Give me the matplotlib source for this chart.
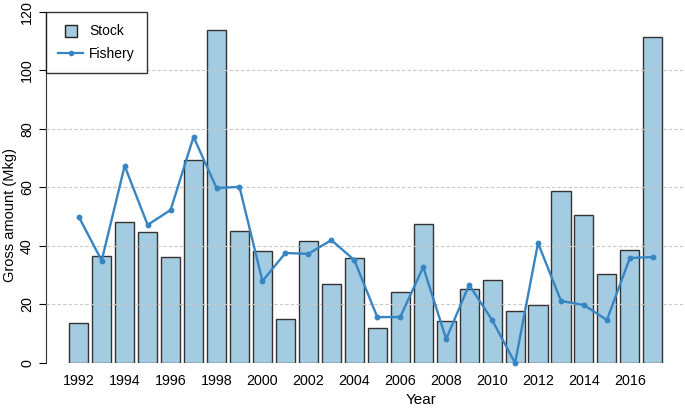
import matplotlib.pyplot as plt
from matplotlib.lines import Line2D

plt.rcParams["font.family"] = ["Liberation Sans", "DejaVu Sans"]

years = list(range(1992, 2018))
stock = [13.7, 36.6, 48.2, 44.8, 36.2, 69.4, 113.8, 45.1, 38.3, 15.0, 41.7, 27.0, 35.9,
         12.0, 24.3, 47.5, 14.4, 25.3, 28.4, 17.8, 19.8, 58.8, 50.6, 30.4, 38.6, 111.5]
fishery = [50.0, 35.0, 67.4, 47.2, 52.3, 77.3, 59.8, 60.2, 28.0, 37.6, 37.3, 42.0, 35.2,
           15.7, 15.7, 32.8, 8.2, 26.7, 14.7, 0.0, 41.0, 21.2, 19.8, 14.7, 35.9, 36.2]
xticks = list(range(1992, 2017, 2))
yticks = [0, 20, 40, 60, 80, 100, 120]

bar_color = "#a3cbe1"
line_color = "#3785c2"

fig = plt.figure(figsize=(6.85, 4.12), dpi=100)
ax = fig.add_axes([0.067, 0.119, 0.933, 0.852])

ax.bar(years, stock, width=0.83, color=bar_color, edgecolor="#333333", linewidth=1.0, zorder=2)
for y in yticks[1:-1]:
    ax.axhline(y, color="#c8c8c8", linestyle=(0, (3, 2)), linewidth=0.8, zorder=3)
ax.plot(years, fishery, color=line_color, linewidth=1.7, marker="o", markersize=3.2, zorder=4,
        clip_on=False)

ax.set_xlim(1990.57, 2018.4)
ax.set_ylim(0, 120)
ax.set_xticks(xticks)
ax.set_yticks(yticks)
ax.set_yticklabels([str(v) for v in yticks], rotation=90, va="center")
ax.tick_params(axis="x", length=0, labelsize=10.3, pad=8)
ax.tick_params(axis="y", length=5, labelsize=10.3, direction="out")
for s in ["top", "right", "bottom"]:
    ax.spines[s].set_visible(False)
ax.spines["left"].set_color("#333333")

# axis titles sit off-centre in the original (cropped figure)
fig.text(421 / 685, 1 - 400 / 412, "Year", fontsize=11, ha="center", va="center")
fig.text(10 / 685, 1 - 215 / 412, "Gross amount (Mkg)", fontsize=10.5, rotation=90,
         ha="center", va="center")

handles = [Line2D([0], [0], linestyle="none", marker="s", markersize=8,
                  markerfacecolor=bar_color, markeredgecolor="#222222", markeredgewidth=1.0,
                  label="Stock"),
           Line2D([0], [0], color=line_color, marker="o", markersize=3, linewidth=1.6,
                  label="Fishery")]
leg = ax.legend(handles=handles, loc="upper left", bbox_to_anchor=(0, 1), fontsize=10,
                frameon=True, fancybox=False, edgecolor="black", borderaxespad=0,
                handlelength=1.8, handletextpad=0.4, borderpad=0.9, labelspacing=0.6)
leg.get_frame().set_linewidth(1.0)
leg.set_zorder(5)

fig.savefig("out.png", dpi=100)
